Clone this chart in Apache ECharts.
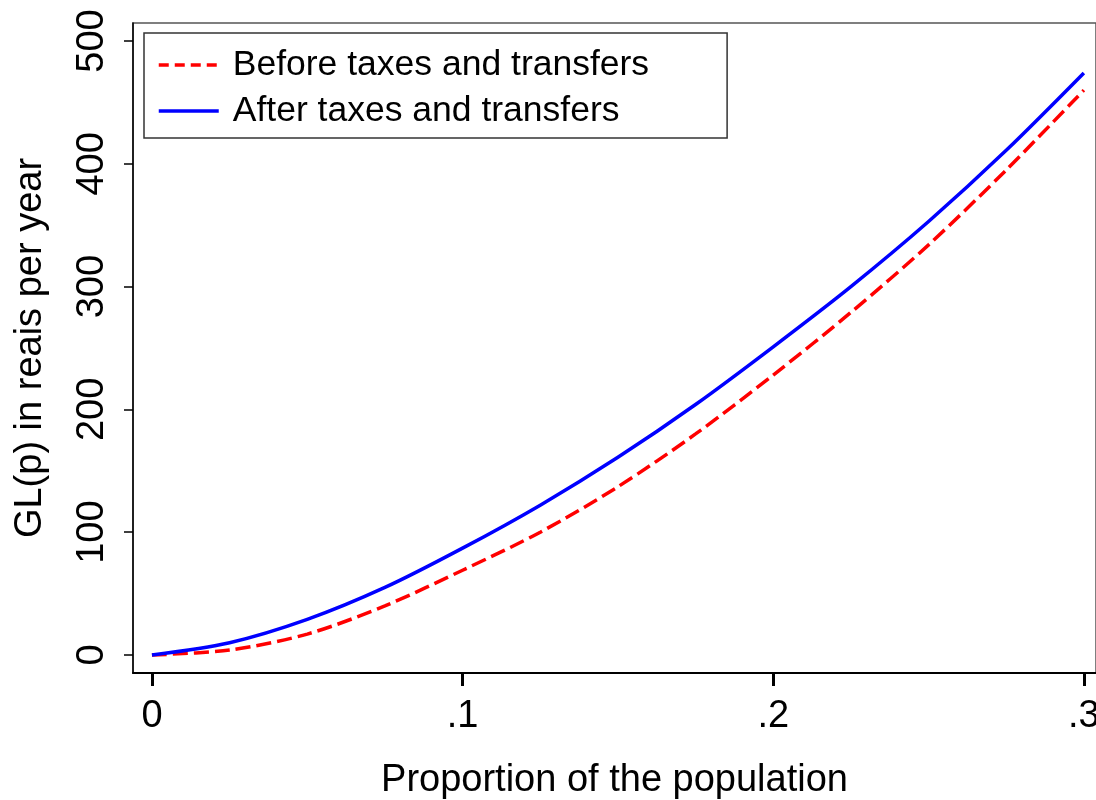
<!DOCTYPE html>
<html>
<head>
<meta charset="utf-8">
<script src="https://cdn.jsdelivr.net/npm/echarts@6/dist/echarts.min.js"></script>
<style>
  html, body { margin: 0; padding: 0; background: #fff; }
  #chart { width: 1096px; height: 800px; }
</style>
</head>
<body>
<div id="chart"></div>
<script>
  // proportion of the population (x) and generalized Lorenz values
  var proportion = [0, 0.025, 0.05, 0.075, 0.1, 0.125, 0.15, 0.175, 0.2, 0.225, 0.25, 0.275, 0.3];
  var beforeTax = [0, 4, 17, 40, 69, 100, 137, 180, 228, 279, 334, 395, 460];
  var afterTax  = [0, 10, 29, 55, 87, 122, 161, 204, 251, 300, 353, 411, 474];
  var xTicks = [0, 0.1, 0.2, 0.3];
  var yTicks = [0, 100, 200, 300, 400, 500];
  var seriesNames = ['Before taxes and transfers', 'After taxes and transfers'];

  var font = 'Liberation Sans, Arial, sans-serif';

  function pairs(ys) {
    return proportion.map(function (x, i) { return [x, ys[i]]; });
  }

  var chart = echarts.init(document.getElementById('chart'));
  var option = {
    animation: false,
    backgroundColor: '#fff',
    grid: {
      left: 133, right: 0, top: 23, bottom: 127,
      outerBoundsMode: 'none',
      containLabel: false,
      show: true,
      borderColor: '#555',
      borderWidth: 1.5,
      backgroundColor: 'transparent'
    },
    legend: {
      orient: 'vertical',
      left: 144,
      top: 33,
      padding: [12, 78, 7, 13],
      itemWidth: 60,
      itemHeight: 40,
      itemGap: 6,
      borderColor: '#333',
      borderWidth: 1.5,
      itemStyle: { opacity: 0 },
      lineStyle: { width: 3.5 },
      textStyle: {
        fontFamily: font,
        fontSize: 35.5,
        lineHeight: 40,
        color: '#000',
        padding: [0, 0, 0, 9]
      },
      data: [
        { name: seriesNames[0], lineStyle: { type: [10, 6], width: 3.5 } },
        { name: seriesNames[1], lineStyle: { width: 3.5 } }
      ]
    },
    xAxis: {
      type: 'value',
      min: -0.0061,
      max: 0.3039,
      name: 'Proportion of the population',
      nameLocation: 'middle',
      nameGap: 89,
      nameTextStyle: { fontFamily: font, fontSize: 38, color: '#000' },
      splitLine: { show: false },
      axisLine: { show: true, onZero: false, lineStyle: { color: '#000', width: 2 } },
      axisTick: {
        show: true, inside: false, length: 13,
        customValues: xTicks,
        lineStyle: { color: '#000', width: 3 }
      },
      axisLabel: {
        customValues: xTicks,
        margin: 25,
        fontFamily: font,
        fontSize: 38,
        color: '#000',
        formatter: function (v) {
          return v === 0 ? '0' : String(+v.toFixed(2)).replace(/^0/, '');
        }
      }
    },
    yAxis: {
      type: 'value',
      min: -14.7,
      max: 514.7,
      name: 'GL(p) in reais per year',
      nameLocation: 'middle',
      nameGap: 83,
      nameTextStyle: { fontFamily: font, fontSize: 38, color: '#000' },
      splitLine: { show: false },
      axisLine: { show: true, onZero: false, lineStyle: { color: '#000', width: 1.5 } },
      axisTick: {
        show: true, inside: false, length: 9,
        customValues: yTicks,
        lineStyle: { color: '#000', width: 1.5 }
      },
      axisLabel: {
        customValues: yTicks,
        rotate: 90,
        margin: 21,
        fontFamily: font,
        fontSize: 38,
        color: '#000'
      }
    },
    series: [
      {
        name: seriesNames[0],
        type: 'line',
        data: pairs(beforeTax),
        symbol: 'none',
        smooth: 0.3,
        lineStyle: { color: '#ff0000', width: 3.5, type: [15, 6] },
        itemStyle: { color: '#ff0000' }
      },
      {
        name: seriesNames[1],
        type: 'line',
        data: pairs(afterTax),
        symbol: 'none',
        smooth: 0.3,
        lineStyle: { color: '#0000ff', width: 3.5 },
        itemStyle: { color: '#0000ff' }
      }
    ]
  };
  chart.setOption(option);
</script>
</body>
</html>
